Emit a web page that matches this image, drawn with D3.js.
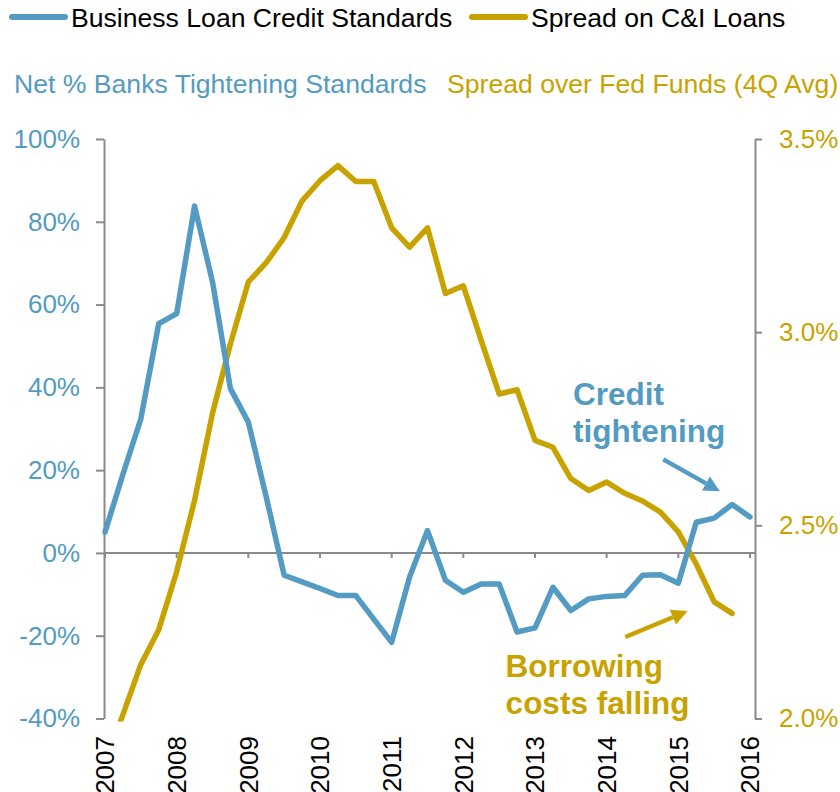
<!DOCTYPE html>
<html>
<head>
<meta charset="utf-8">
<script src="https://cdn.jsdelivr.net/npm/d3@7"></script>
<style>
  html, body { margin: 0; padding: 0; background: #fff; }
  svg { display: block; font-family: "Liberation Sans", Arial, sans-serif; }
</style>
</head>
<body>
<svg id="chart" width="840" height="792"></svg>
<script>
// Quarterly observations, 2007 Q1 onward
const startYear = 2007;
const yearTicks = [2007, 2008, 2009, 2010, 2011, 2012, 2013, 2014, 2015, 2016];

// Net % of banks tightening C&I lending standards (left axis, %)
const creditStandards = [
  5, 19, 32.4, 55.4, 57.8, 83.8, 65.5, 39.7,
  31.6, 13.5, -5.4, -7.0, -8.6, -10.3, -10.3, -16.0,
  -21.6, -5.8, 5.4, -6.6, -9.5, -7.5, -7.5, -19.1,
  -18.1, -8.3, -13.9, -11.1, -10.5, -10.3, -5.4, -5.3,
  -7.3, 7.4, 8.4, 11.7, 8.7
];

// Spread of C&I loan rates over Fed Funds, 4-quarter average (right axis, %)
const loanSpread = [
  1.88, 2.01, 2.14, 2.23, 2.38, 2.565, 2.79, 2.97,
  3.13, 3.18, 3.245, 3.34, 3.392, 3.431, 3.39, 3.39,
  3.27, 3.22, 3.27, 3.10, 3.12, 2.978, 2.84, 2.851,
  2.72, 2.702, 2.621, 2.59, 2.612, 2.583, 2.563, 2.534,
  2.483, 2.40, 2.302, 2.272
];

const leftTicks = [-40, -20, 0, 20, 40, 60, 80, 100];
const rightTicks = [2.0, 2.5, 3.0, 3.5];

const seriesNames = ["Business Loan Credit Standards", "Spread on C&I Loans"];
const axisTitles = ["Net % Banks Tightening Standards", "Spread over Fed Funds (4Q Avg)"];

const BLUE = "#539BC2";
const GOLD = "#C8A300";
const AXIS = "#8a8a8a";

const svg = d3.select("#chart");

const x = d3.scaleLinear().domain([2007, 2016]).range([105, 750]);
const yL = d3.scaleLinear().domain([-40, 100]).range([718.5, 139]);
const yR = d3.scaleLinear().domain([2.0, 3.5]).range([718.5, 139]);
const qx = i => x(startYear + i / 4);

// Plot clip
svg.append("defs").append("clipPath").attr("id", "plotClip")
  .append("rect").attr("x", 100).attr("y", 120).attr("width", 660).attr("height", yR(2.0) - 120 + 3);

// Left axis
const leftAxis = svg.append("g")
  .attr("transform", "translate(104,0)")
  .call(d3.axisLeft(yL).tickValues(leftTicks).tickSize(8).tickSizeOuter(0).tickPadding(16)
    .tickFormat(d => d + "%"));
leftAxis.select(".domain").attr("stroke", AXIS).attr("stroke-width", 2);
leftAxis.selectAll(".tick line").attr("stroke", AXIS).attr("stroke-width", 2);
leftAxis.selectAll(".tick text").attr("fill", BLUE).attr("font-size", 26)
  .attr("font-family", "Liberation Sans, Arial, sans-serif");

// Right axis
const rightAxis = svg.append("g")
  .attr("transform", "translate(755,0)")
  .call(d3.axisRight(yR).tickValues(rightTicks).tickSize(7).tickSizeOuter(0).tickPadding(17)
    .tickFormat(d => d3.format(".1f")(d) + "%"));
rightAxis.select(".domain").attr("stroke", AXIS).attr("stroke-width", 2);
rightAxis.selectAll(".tick line").attr("stroke", AXIS).attr("stroke-width", 2);
rightAxis.selectAll(".tick text").attr("fill", GOLD).attr("font-size", 26)
  .attr("font-family", "Liberation Sans, Arial, sans-serif");

// Zero line with year ticks
const zeroY = yL(0);
svg.append("line")
  .attr("x1", 104).attr("x2", 755).attr("y1", zeroY).attr("y2", zeroY)
  .attr("stroke", AXIS).attr("stroke-width", 2);
svg.append("g").selectAll("line").data(yearTicks).join("line")
  .attr("x1", d => x(d)).attr("x2", d => x(d))
  .attr("y1", zeroY).attr("y2", zeroY + 5)
  .attr("stroke", AXIS).attr("stroke-width", 2);

// Year labels, rotated
svg.append("g").selectAll("text").data(yearTicks).join("text")
  .attr("transform", d => `translate(${x(d)},736) rotate(-90)`)
  .attr("text-anchor", "end").attr("dy", "0.36em")
  .attr("font-size", 26).attr("fill", "#000")
  .text(d => d);

// Series lines
const lineL = d3.line().x((d, i) => qx(i)).y(d => yL(d));
const lineR = d3.line().x((d, i) => qx(i)).y(d => yR(d));

const plot = svg.append("g").attr("clip-path", "url(#plotClip)");
plot.append("path").datum(loanSpread).attr("d", lineR)
  .attr("fill", "none").attr("stroke", GOLD).attr("stroke-width", 5.5)
  .attr("stroke-linejoin", "round").attr("stroke-linecap", "round");
plot.append("path").datum(creditStandards).attr("d", lineL)
  .attr("fill", "none").attr("stroke", BLUE).attr("stroke-width", 5.5)
  .attr("stroke-linejoin", "round").attr("stroke-linecap", "round");

// Legend
const legend = svg.append("g");
const legendItems = [
  { name: seriesNames[0], color: BLUE, x0: 12 },
  { name: seriesNames[1], color: GOLD, x0: 472 }
];
legendItems.forEach(it => {
  legend.append("line").attr("x1", it.x0).attr("x2", it.x0 + 53).attr("y1", 17).attr("y2", 17)
    .attr("stroke", it.color).attr("stroke-width", 6).attr("stroke-linecap", "round");
  legend.append("text").attr("x", it.x0 + 59).attr("y", 27).attr("font-size", 26.6).attr("fill", "#000")
    .text(it.name);
});

// Axis titles
svg.append("text").attr("x", 14).attr("y", 93).attr("font-size", 26.6).attr("fill", BLUE).text(axisTitles[0]);
svg.append("text").attr("x", 447).attr("y", 93).attr("font-size", 26.6).attr("fill", GOLD).text(axisTitles[1]);

// Annotations
function arrow(color, x1, y1, x2, y2) {
  const ang = Math.atan2(y2 - y1, x2 - x1);
  const len = 16, half = 8;
  const bx = x2 - len * Math.cos(ang), by = y2 - len * Math.sin(ang);
  svg.append("line").attr("x1", x1).attr("y1", y1).attr("x2", bx).attr("y2", by)
    .attr("stroke", color).attr("stroke-width", 4.5);
  const px = -Math.sin(ang) * half, py = Math.cos(ang) * half;
  svg.append("path")
    .attr("d", `M${x2},${y2}L${bx + px},${by + py}L${bx - px},${by - py}Z`)
    .attr("fill", color);
}

const noteBlue = { lines: ["Credit", "tightening"], year: 2013.53, value: 35.7 };
const noteGold = { lines: ["Borrowing", "costs falling"], year: 2012.59, value: 2.107 };

const tb = svg.append("text").attr("font-size", 31.5).attr("font-weight", "bold").attr("fill", BLUE);
noteBlue.lines.forEach((t, k) => tb.append("tspan").attr("x", x(noteBlue.year)).attr("y", yL(noteBlue.value) + k * 37).text(t));
const tg = svg.append("text").attr("font-size", 31.5).attr("font-weight", "bold").attr("fill", GOLD);
noteGold.lines.forEach((t, k) => tg.append("tspan").attr("x", x(noteGold.year)).attr("y", yR(noteGold.value) + k * 37).text(t));

arrow(BLUE, x(2014.79), yL(22.6), x(2015.58), yL(14.9));
arrow(GOLD, x(2014.26), yR(2.211), x(2015.13), yR(2.278));
</script>
</body>
</html>
